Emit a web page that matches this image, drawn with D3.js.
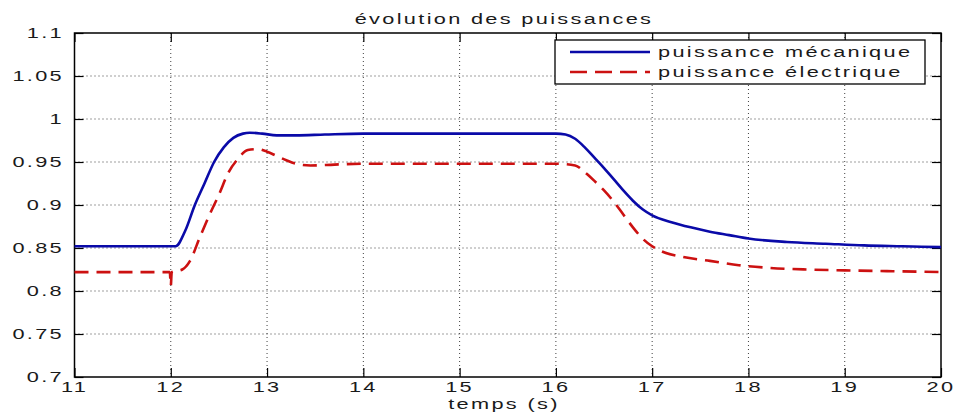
<!DOCTYPE html>
<html>
<head>
<meta charset="utf-8">
<script src="https://cdn.jsdelivr.net/npm/d3@7"></script>
<style>
  body { margin: 0; background: #fff; }
  svg { display: block; }
  text { font-family: "Liberation Sans", Arial, sans-serif; fill: #1a1a1a; }
</style>
</head>
<body>
<div id="chart"></div>
<script>
// data
const mecaT = [11, 12.05, 12.15, 12.25, 12.35, 12.45, 12.55, 12.65, 12.75, 12.82, 12.95, 13.1, 13.3, 13.6, 14, 15, 16, 16.1, 16.2, 16.3, 16.4, 16.5, 16.6, 16.7, 16.8, 16.9, 17, 17.2, 17.4, 17.6, 17.8, 18, 18.4, 18.8, 19.2, 19.6, 20];
const mecaP = [0.852, 0.852, 0.870, 0.900, 0.925, 0.950, 0.967, 0.978, 0.983, 0.984, 0.983, 0.981, 0.981, 0.982, 0.983, 0.983, 0.983, 0.982, 0.977, 0.967, 0.955, 0.943, 0.930, 0.917, 0.905, 0.895, 0.888, 0.880, 0.874, 0.869, 0.865, 0.861, 0.857, 0.855, 0.853, 0.852, 0.851];

const elecT = [11, 11.99, 12.0, 12.01, 12.12, 12.2, 12.3, 12.4, 12.5, 12.6, 12.7, 12.8, 12.9, 13.0, 13.1, 13.2, 13.3, 13.45, 13.7, 14, 15, 16, 16.2, 16.3, 16.4, 16.5, 16.6, 16.7, 16.8, 16.9, 17.0, 17.1, 17.3, 17.6, 17.9, 18.2, 18.6, 19, 19.5, 20];
const elecP = [0.822, 0.822, 0.806, 0.822, 0.825, 0.835, 0.862, 0.888, 0.912, 0.938, 0.954, 0.964, 0.965, 0.962, 0.957, 0.952, 0.948, 0.946, 0.947, 0.948, 0.948, 0.948, 0.946, 0.938, 0.928, 0.917, 0.904, 0.889, 0.874, 0.861, 0.852, 0.846, 0.840, 0.835, 0.830, 0.827, 0.825, 0.824, 0.823, 0.822];

const xTicks = [11, 12, 13, 14, 15, 16, 17, 18, 19, 20];
const yTicks = [0.7, 0.75, 0.8, 0.85, 0.9, 0.95, 1, 1.05, 1.1];
const seriesNames = ["puissance mécanique", "puissance électrique"];

const W = 957, H = 414;
const pL = 74.5, pR = 941, pT = 33, pB = 377;

const svg = d3.select("#chart").append("svg").attr("width", W).attr("height", H);

const x = d3.scaleLinear().domain([11, 20]).range([pL, pR]);
const y = d3.scaleLinear().domain([0.7, 1.1]).range([pB, pT]);

// stretched text like the original bitmap
function label(g, tx, ty, str, anchor) {
  return g.append("text")
    .attr("transform", `translate(${tx},${ty}) scale(1.45,1)`)
    .attr("text-anchor", anchor || "start")
    .style("font-size", "15px")
    .style("letter-spacing", "1.6px")
    .text(str);
}

// grid
const grid = svg.append("g").attr("stroke", "#000").attr("stroke-width", 1)
  .attr("stroke-dasharray", "1,3").attr("opacity", 0.75);
grid.selectAll("line.v").data(xTicks.slice(1, -1)).join("line")
  .attr("x1", d => x(d)).attr("x2", d => x(d)).attr("y1", pT).attr("y2", pB);
grid.selectAll("line.h").data(yTicks.slice(1, -1)).join("line")
  .attr("x1", pL).attr("x2", pR).attr("y1", d => y(d)).attr("y2", d => y(d));

// axes with inner ticks on all sides
const tk = 9;
const axB = svg.append("g").attr("transform", `translate(0,${pB})`)
  .call(d3.axisBottom(x).tickValues(xTicks).tickSize(-tk).tickFormat(""));
const axT = svg.append("g").attr("transform", `translate(0,${pT})`)
  .call(d3.axisTop(x).tickValues(xTicks).tickSize(-tk).tickFormat(""));
const axL = svg.append("g").attr("transform", `translate(${pL},0)`)
  .call(d3.axisLeft(y).tickValues(yTicks).tickSize(-tk).tickFormat(""));
const axR = svg.append("g").attr("transform", `translate(${pR},0)`)
  .call(d3.axisRight(y).tickValues(yTicks).tickSize(-tk).tickFormat(""));
[axB, axT, axL, axR].forEach(a => {
  a.select(".domain").remove();
  a.selectAll(".tick line").attr("stroke", "#000").attr("stroke-width", 1.2);
});

svg.append("rect").attr("x", pL).attr("y", pT)
  .attr("width", pR - pL).attr("height", pB - pT)
  .attr("fill", "none").attr("stroke", "#000").attr("stroke-width", 1.5);

// tick labels
const tl = svg.append("g");
xTicks.forEach(t => label(tl, x(t), 391.5, String(t), "middle"));
yTicks.forEach(t => label(tl, 64, y(t) + 5, String(t), "end"));

// curves
const lineGen = d3.line().x(d => x(d[0])).y(d => y(d[1])).curve(d3.curveMonotoneX);
const mecaData = mecaT.map((t, i) => [t, mecaP[i]]);
const elecData = elecT.map((t, i) => [t, elecP[i]]);

svg.append("path").datum(mecaData).attr("d", lineGen)
  .attr("fill", "none").attr("stroke", "#0a0aa8").attr("stroke-width", 2.6);
svg.append("path").datum(elecData).attr("d", lineGen)
  .attr("fill", "none").attr("stroke", "#cc1111").attr("stroke-width", 2.6)
  .attr("stroke-dasharray", "14,8");

// title and x label
label(svg, 504, 24, "évolution des puissances", "middle");
label(svg, 504, 409, "temps (s)", "middle");

// legend
const lg = svg.append("g");
lg.append("rect").attr("x", 555).attr("y", 40).attr("width", 370).attr("height", 44)
  .attr("fill", "#fff").attr("stroke", "#000").attr("stroke-width", 1.3);
const legStyles = [
  { color: "#0a0aa8", dash: null },
  { color: "#cc1111", dash: "17,8" }
];
seriesNames.forEach((name, i) => {
  const ly = 52 + i * 20;
  lg.append("line").attr("x1", 570).attr("x2", 650).attr("y1", ly).attr("y2", ly)
    .attr("stroke", legStyles[i].color).attr("stroke-width", 2.6)
    .attr("stroke-dasharray", legStyles[i].dash);
  label(lg, 658, ly + 5, name, "start");
});
</script>
</body>
</html>
